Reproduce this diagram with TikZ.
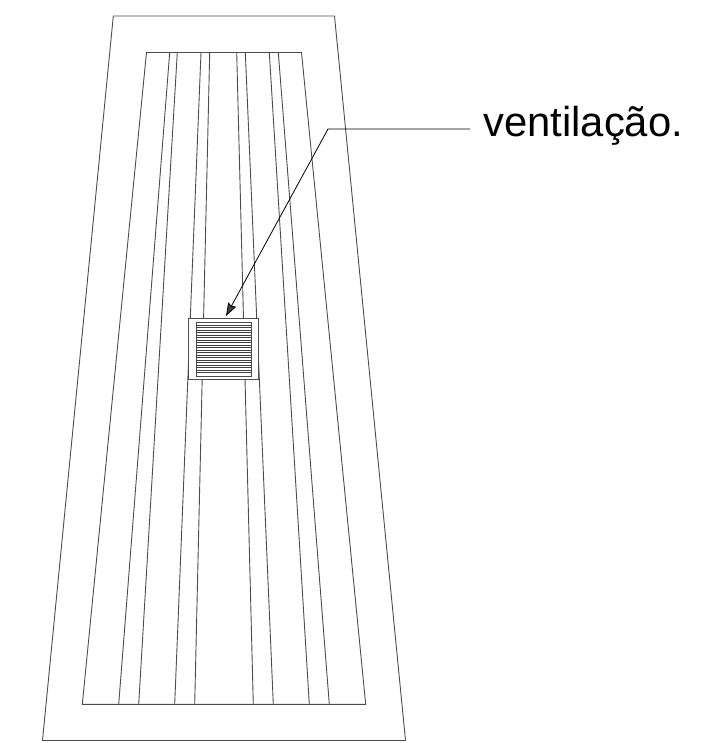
\documentclass[tikz,border=0pt]{standalone}
\usepackage{fontspec}
\setmainfont{Liberation Sans}
\usetikzlibrary{arrows.meta}
\tikzset{
  part/.style={draw=black!70,line width=0.9pt,line join=miter},
  slat/.style={draw=black!75,line width=0.8pt},
  leader/.style={draw=black,line width=0.8pt},
  tip/.style={-{Stealth[length=13pt,width=9pt,inset=1.5pt,fill=black!75]}},
  lbl/.style={font=\fontsize{41.8}{46}\selectfont,text=black,inner sep=0pt,anchor=base west}
}
\begin{document}
\begin{tikzpicture}[x=1pt,y=-1pt]
\useasboundingbox (0,0) rectangle (701,743);
\draw[part] (113.3,16) -- (334.5,16) -- (405.5,740.5) -- (42.5,740.5) -- cycle;
\draw[part] (146.5,52.5) -- (301.5,52.5) -- (365.7,704.3) -- (82.3,704.3) -- cycle;
% strips; the vent node below covers their middle part
\foreach \a/\b in {169.7/118.7,177.3/138.7,201/174.7,209.7/194.7,236.7/253.3,245.3/273.3,269.3/309.3,278.3/329.3}{
  \draw[part] (\a,52.5) -- (\b,704.3);
}
\node[part,fill=white,minimum width=70pt,minimum height=60.7pt,inner sep=0pt,anchor=north west] (vent) at (188.3,318.3) {};
\node[part,fill=white,minimum width=55pt,minimum height=54.3pt,inner sep=0pt,anchor=north west] (grille) at (196,321.7) {};
\foreach \y in {325,327,330,332,335,337,340,342,345,347,350,352,355,357,360,362,365,367,370,372}{
  \draw[slat] (196,\y) -- (251,\y);
}
\node[lbl] (label) at (483,137) {ventilação.};
\coordinate (labelend) at (470,129);
\coordinate (bend) at (328,129);
\coordinate (target) at (226,316);
\draw[leader,tip] (labelend) -- (bend) -- (target);
\end{tikzpicture}
\end{document}
